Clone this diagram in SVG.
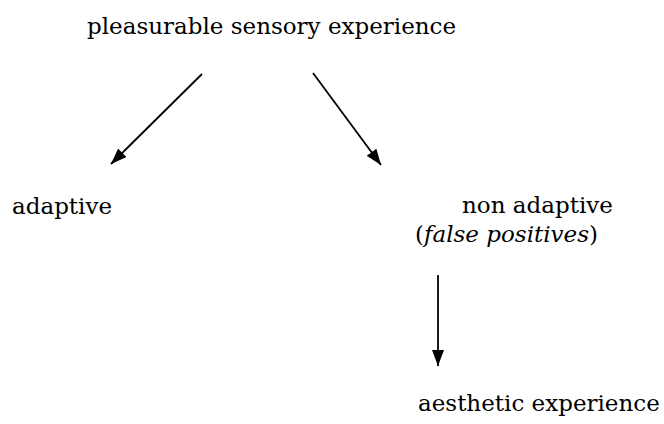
<svg xmlns="http://www.w3.org/2000/svg" width="664" height="424" viewBox="0 0 664 424">
<style>
text{font-family:'DejaVu Serif',serif;font-size:23px;fill:#000}
.ln{stroke:#000;stroke-width:1.8;fill:none}
</style>
<defs>
<marker id="ah" viewBox="0 0 16 12" refX="16" refY="6" markerWidth="16" markerHeight="12" markerUnits="userSpaceOnUse" orient="auto">
<path d="M0,0 L16,6 L0,12 z" fill="#000"/>
</marker>
</defs>
<rect width="664" height="424" fill="#fff"/>
<g id="n-pleasure"><text x="87" y="34">pleasurable sensory experience</text></g>
<g id="n-adaptive"><text x="12" y="214">adaptive</text></g>
<g id="n-nonadaptive"><text x="462" y="213">non adaptive</text><text x="415" y="242">(<tspan font-style="italic">false positives</tspan>)</text></g>
<g id="n-aesthetic"><text x="418" y="411">aesthetic experience</text></g>
<g id="connectors">
<line class="ln" x1="202" y1="74" x2="111" y2="164" marker-end="url(#ah)"/>
<line class="ln" x1="313" y1="73" x2="381" y2="165" marker-end="url(#ah)"/>
<line class="ln" x1="438" y1="275" x2="438" y2="366" marker-end="url(#ah)"/>
</g>
</svg>
